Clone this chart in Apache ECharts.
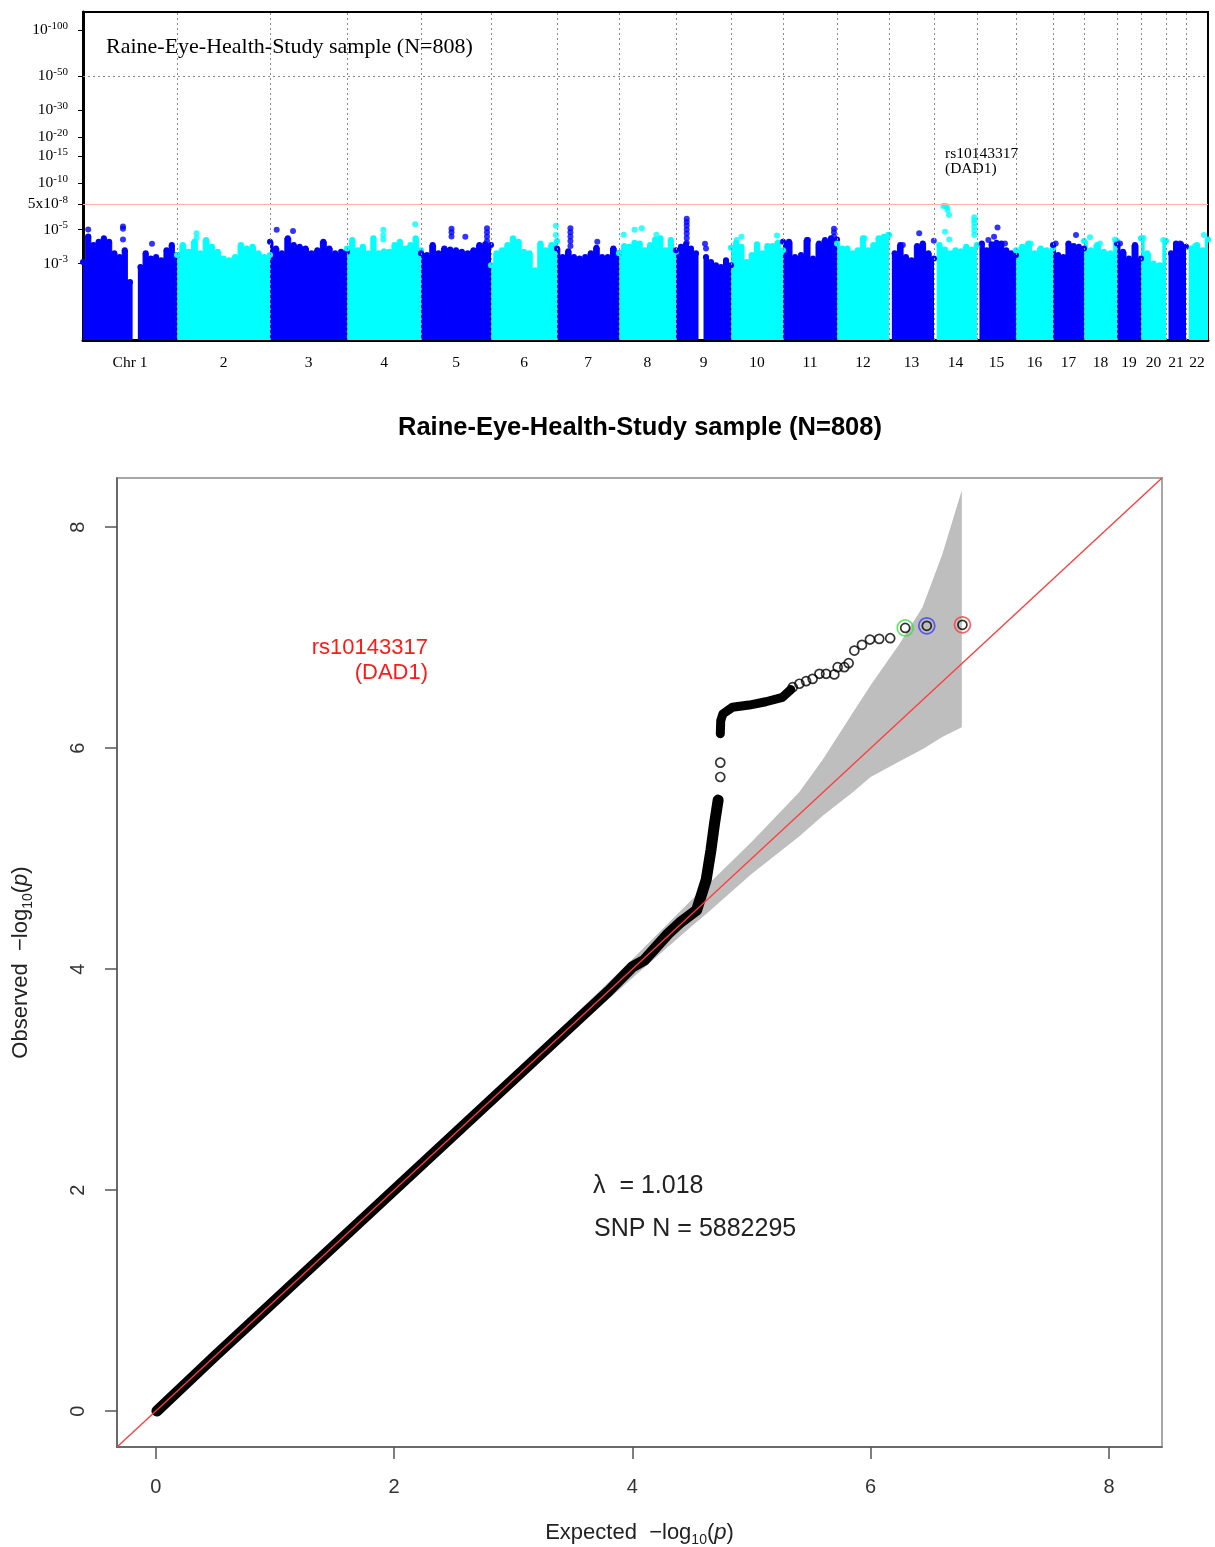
<!DOCTYPE html>
<html><head><meta charset="utf-8">
<script src="https://cdn.jsdelivr.net/npm/echarts@6/dist/echarts.min.js"></script>
<style>html,body{margin:0;padding:0;background:#fff}#c{width:1215px;height:1547px}</style>
</head><body><div id="c"></div>
<script>
// ================= Manhattan plot data =================
const chromNames = ['Chr 1','2','3','4','5','6','7','8','9','10','11','12','13','14','15','16','17','18','19','20','21','22'];
// plotted span of each chromosome (Mb)
const chromLenMb = [240.4,237.9,196.9,189.3,179.0,168.8,158.5,145.8,140.7,133.0,138.1,133.0,115.1,109.9,99.8,94.6,79.3,84.4,61.4,63.9,51.2,56.2];
// upper edge of the dense point cloud (-log10 p), evenly spread over each chromosome; null = no SNPs
const env1  = [3.07,4.48,3.95,4.16,4.38,4.16,3.49,3.31,3.66,2.27,null,2.84,3.49,3.23,3.31,3.15,3.66,3.95,3.40];
const env2  = [3.40,3.95,3.57,4.16,3.49,4.26,3.85,3.57,3.23,3.15,3.31,3.95,3.76,3.85,3.49,3.31,3.40];
const env3  = [4.16,3.76,3.49,4.38,3.95,3.85,3.76,3.49,3.66,4.16,3.76,3.49,3.57,3.57];
const env4  = [3.76,4.26,3.66,3.85,3.49,4.38,3.49,3.60,3.57,3.95,4.16,3.76,3.95,4.38,3.66];
const env5  = [3.49,3.40,3.95,3.49,3.76,3.70,3.66,3.57,3.49,3.66,3.95,4.00,3.95];
const env6  = [2.92,3.49,3.66,3.95,4.38,4.16,3.57,3.49,2.71,4.05,3.66,3.95,4.20];
const env7  = [3.76,3.31,3.60,3.31,3.23,3.31,3.49,3.80,3.31,3.31,3.76,3.49];
const env8  = [3.49,3.90,3.85,4.10,4.05,3.66,3.95,4.30,4.38,3.66,4.26,3.57];
const env9  = [3.66,3.85,4.00,3.76,3.49,null,3.31,3.07,2.92,2.84,3.15,2.92];
const env10 = [3.80,4.10,3.85,3.07,3.40,4.00,3.49,3.90,3.90,4.10,3.66];
const env11 = [4.16,4.16,3.31,3.40,4.26,3.23,4.05,4.26,4.38,4.30];
const env12 = [4.05,3.76,3.76,3.49,3.66,4.38,3.66,3.95,4.38,4.48,4.60];
const env13 = [null,3.49,3.95,3.31,3.15,3.90,4.05,3.49,3.23];
const env14 = [null,3.95,3.70,3.49,3.66,3.60,3.85,3.70,3.95];
const env15 = [null,4.05,3.66,4.00,4.10,4.05,3.66,3.49,3.40];
const env16 = [3.66,3.85,4.05,3.49,3.76,3.66,3.76];
const env17 = [3.95,3.40,3.31,4.05,3.90,3.85,3.76];
const env18 = [4.20,3.66,3.95,3.57,3.49,4.20];
const env19 = [4.05,3.57,3.23,3.95,3.23];
const env20 = [4.38,3.49,3.00,2.92,4.20];
const env21 = [null,3.49,4.05,4.00,3.85];
const env22 = [null,3.76,3.95,3.66,4.30];
const chromEnvelope = [env1,env2,env3,env4,env5,env6,env7,env8,env9,env10,env11,env12,env13,env14,env15,env16,env17,env18,env19,env20,env21,env22];
// isolated SNPs standing above the cloud: genome position (Mb) and -log10 p
const hitPosMb = [13.3,13.3,102.3,102.3,102.3,176.5, 290.5,290.5, 495.4,537.1, 768.0,768.0,768.0,849.6,
  942.5,942.5,942.5,977.8,1033.2,1033.2,1033.2,1033.2, 1209.5,1209.5, 1246.6,1246.6,1246.6,1246.6,1246.6,1315.3,
  1382.9,1410.7,1429.2,1466.5, 1544.0,1544.0,1544.0,1544.0,1544.0,1544.0,1544.0,1590.8,1593.4,
  1671.9,1684.2,1774.9, 1854.2,1920.7,1920.7,1920.7, 1999.0,2059.0, 2096.7,2138.6,2176.0,
  2200.3,2206.0,2209.5,2211.0,2214.8,2204.6,2215.6,2279.5,2279.5,2279.5,2279.5,2279.5,2279.5,
  2315.4,2330.0,2338.9,2358.0, 2424.0, 2487.7,2539.6, 2575.4,2601.0,2639.4, 2652.2,2690.5, 2711.8,2762.9, 2805.6, 2844.0,2867.0];
const hitLogP = [4.99,4.50,5.22,5.05,4.30,4.03, 4.72,4.40, 4.97,4.89, 4.97,4.60,4.30,5.41,
  5.05,4.80,4.50,4.48,5.09,4.80,4.50,4.20, 5.28,4.60, 5.09,4.80,4.50,4.20,3.90,4.16,
  4.62,4.97,5.09,4.62, 5.87,5.60,5.30,5.00,4.70,4.40,4.10,4.03,3.75,
  4.26,4.48,4.56, 4.26,5.05,4.80,4.50, 4.38,4.62, 3.95,4.72,4.22,
  7.12,7.11,6.99,6.70,6.20,4.83,4.30,6.00,5.75,5.50,5.20,4.90,4.60,
  4.26,4.48,5.15,4.05, 4.05, 4.05,4.60, 4.45,4.05,4.30, 4.05,3.90, 4.40,4.26, 4.05, 3.90,4.60];
const mhTickLogP = [3,5,7.30103,10,15,20,30,50,100];
const mhTickBase = ['10','10','5x10','10','10','10','10','10','10'];
const mhTickExp  = ['-3','-5','-8','-10','-15','-20','-30','-50','-100'];
const gwsLogP = 7.30103;

// ================= QQ plot data =================
const qqDenseExp1 = [0.01,0.5,1.0,1.5,2.0,2.5,3.0,3.5,3.8,4.0,4.1,4.2,4.3,4.4,4.54,4.62,4.66,4.69,4.72];
const qqDenseObs1 = [0.00,0.5,1.0,1.5,2.0,2.5,3.0,3.5,3.8,4.02,4.08,4.2,4.32,4.42,4.535,4.81,5.08,5.32,5.53];
const qqDenseExp2 = [4.738,4.742,4.76,4.84,4.98,5.12,5.26,5.33];
const qqDenseObs2 = [6.13,6.25,6.31,6.37,6.39,6.42,6.46,6.53];
const qqTailExp = [4.738,4.738,5.346,5.402,5.458,5.513,5.570,5.626,5.695,5.723,5.779,5.815,5.863,5.927,5.994,6.072,6.164,6.290,6.471,6.770];
const qqTailObs = [5.739,5.869,6.552,6.583,6.606,6.627,6.673,6.673,6.667,6.733,6.733,6.769,6.883,6.935,6.983,6.989,6.995,7.088,7.107,7.116];
const qqHighlightIdx = [17,18,19];
const qqHighlightColors = ['#44dd44','#3b3bff','#ff3b3b'];
const qqBandExp   = [3.0,3.5,4.0,4.5,4.62,5.0,5.4,5.6,5.85,6.0,6.24,6.435,6.6,6.765];
const qqBandUpper = [3.05,3.57,4.09,4.63,4.75,5.15,5.60,5.90,6.32,6.57,6.94,7.275,7.75,8.335];
const qqBandLower = [2.95,3.44,3.92,4.39,4.50,4.86,5.20,5.39,5.60,5.74,5.88,5.99,6.10,6.19];
const qqRange = [-0.325, 8.445];
const qqTicks = [0,2,4,6,8];

// ================= build =================
const starts = []; let acc = 0;
chromLenMb.forEach(l => { starts.push(acc); acc += l; });
const genomeLen = acc;
const mids = chromLenMb.map((l,i) => starts[i] + l/2);
const colOf = i => (i % 2 === 0 ? '#0000ff' : '#00ffff');
const chromOfPos = p => { let k = 0; for (let i = 0; i < starts.length; i++) if (p >= starts[i]) k = i; return k; };

const series = [];
series.push({
  type:'scatter', xAxisIndex:0, yAxisIndex:0, data:[], z:1, silent:true,
  markLine:{ silent:true, symbol:['none','none'], label:{show:false}, animation:false,
    lineStyle:{type:[2,3], color:'#8a8a8a', width:1},
    data: starts.slice(1).map(s => ({xAxis:s})).concat([{yAxis:50}]) }
});
chromEnvelope.forEach((env,i) => {
  const n = env.length, len = chromLenMb[i];
  const data = env.map((v,j) => [starts[i] + j*len/(n-1), v]);
  series.push({ type:'line', xAxisIndex:0, yAxisIndex:0, data, step:'middle', connectNulls:false,
    symbol:'circle', symbolSize:6, showSymbol:true, z:3, silent:true,
    itemStyle:{color:colOf(i)}, lineStyle:{width:1, color:colOf(i)},
    areaStyle:{color:colOf(i), opacity:1, origin:'start'} });
});
series.push({ type:'scatter', xAxisIndex:0, yAxisIndex:0, z:4, silent:true, symbolSize:6,
  data: hitPosMb.map((p,i) => [p, hitLogP[i], chromOfPos(p)]),
  itemStyle:{ color: prm => colOf(prm.data[2]) } });
series.push({ type:'scatter', xAxisIndex:0, yAxisIndex:0, data:[], z:5, silent:true,
  markLine:{ silent:true, symbol:['none','none'], label:{show:false}, animation:false,
    lineStyle:{type:'solid', color:'#ffb0b0', width:1}, data:[{yAxis:gwsLogP}] } });

series.push({ type:'custom', xAxisIndex:1, yAxisIndex:1, data:[[0,0]], z:1, silent:true, clip:true,
  renderItem:(params, api) => {
    const pts = [];
    for (let i = 0; i < qqBandExp.length; i++) pts.push(api.coord([qqBandExp[i], qqBandUpper[i]]));
    for (let i = qqBandExp.length-1; i >= 0; i--) pts.push(api.coord([qqBandExp[i], qqBandLower[i]]));
    return { type:'polygon', shape:{points:pts}, style:{fill:'#bebebe'} };
  } });
series.push({ type:'line', xAxisIndex:1, yAxisIndex:1, z:3, silent:true, symbol:'none',
  data: qqDenseExp1.map((e,i)=>[e, qqDenseObs1[i]]),
  lineStyle:{color:'#000', width:11, cap:'round', join:'round'} });
series.push({ type:'line', xAxisIndex:1, yAxisIndex:1, z:3, silent:true, symbol:'none',
  data: qqDenseExp2.map((e,i)=>[e, qqDenseObs2[i]]),
  lineStyle:{color:'#000', width:9, cap:'round', join:'round'} });
series.push({ type:'scatter', xAxisIndex:1, yAxisIndex:1, z:3, silent:true, symbol:'circle', symbolSize:9,
  data: qqTailExp.map((e,i)=>[e, qqTailObs[i]]),
  itemStyle:{color:'rgba(0,0,0,0)', borderColor:'#000', borderWidth:1.7} });
series.push({ type:'line', xAxisIndex:1, yAxisIndex:1, z:4, silent:true, symbol:'none',
  data: [[qqRange[0],qqRange[0]],[qqRange[1],qqRange[1]]],
  lineStyle:{color:'#ff3c3c', width:1.3} });
series.push({ type:'scatter', xAxisIndex:1, yAxisIndex:1, z:5, silent:true, symbol:'circle', symbolSize:16,
  data: qqHighlightIdx.map((k,i)=>({value:[qqTailExp[k], qqTailObs[k]],
    itemStyle:{color:'rgba(0,0,0,0)', borderColor:qqHighlightColors[i], borderWidth:1.7}})) });

const nearestIdx = (arr, v) => { let b = 0; for (let i = 1; i < arr.length; i++) if (Math.abs(arr[i]-v) < Math.abs(arr[b]-v)) b = i; return b; };
const sansName = {fontFamily:'Liberation Sans', fontSize:22, color:'#222'};
const nameRich = {n:{...sansName, lineHeight:28}, sub:{fontFamily:'Liberation Sans', fontSize:14, color:'#222', lineHeight:12, verticalAlign:'bottom'}, it:{...sansName, fontStyle:'italic', lineHeight:28}};

const option = {
  animation:false,
  backgroundColor:'#fff',
  title:[
    {text:'Raine-Eye-Health-Study sample (N=808)', left:106, top:36, padding:0,
     textStyle:{fontFamily:'Liberation Serif', fontSize:22, fontWeight:'normal', color:'#000'}},
    {text:'Raine-Eye-Health-Study sample (N=808)', left:398, top:415, padding:0,
     textStyle:{fontFamily:'Liberation Sans', fontSize:25.5, fontWeight:'bold', color:'#000'}}
  ],
  grid:[
    {left:83, top:12, width:1125, height:328, show:true, borderColor:'#000', borderWidth:2, backgroundColor:'transparent', outerBoundsMode:'none', containLabel:false},
    {left:117, top:478, right:53, bottom:100, show:true, borderColor:'#a8a8a8', borderWidth:2, backgroundColor:'transparent', outerBoundsMode:'none', containLabel:false}
  ],
  xAxis:[
    {type:'value', gridIndex:0, min:0, max:genomeLen, splitLine:{show:false},
     axisLine:{show:true, onZero:false, lineStyle:{color:'#000', width:3}}, axisTick:{show:false},
     axisLabel:{customValues:mids, margin:15, color:'#000', fontFamily:'Liberation Serif', fontSize:15.5,
       formatter: v => chromNames[nearestIdx(mids, v)]}},
    {type:'value', gridIndex:1, min:qqRange[0], max:qqRange[1], splitLine:{show:false},
     axisLine:{show:true, onZero:false, lineStyle:{color:'#555', width:1.5}},
     axisTick:{show:true, customValues:qqTicks, length:12, lineStyle:{color:'#555', width:1.5}},
     axisLabel:{customValues:qqTicks, margin:30, color:'#333', fontFamily:'Liberation Sans', fontSize:20},
     name:'{n|Expected  −log}{sub|10}{n|(}{it|p}{n|)}', nameLocation:'middle', nameGap:72,
     nameTextStyle:{...sansName, rich:nameRich}}
  ],
  yAxis:[
    {type:'log', logBase:10, gridIndex:0, min:0.949, max:131.3, splitLine:{show:false},
     axisLine:{show:true, onZero:false, lineStyle:{color:'#000', width:3}},
     axisTick:{show:true, customValues:mhTickLogP, length:5, lineStyle:{color:'#000', width:1}},
     axisLabel:{customValues:mhTickLogP, margin:15, color:'#000',
       formatter: v => { const k = nearestIdx(mhTickLogP, v); return '{b|' + mhTickBase[k] + '}{s|' + mhTickExp[k] + '}'; },
       rich:{ b:{fontFamily:'Liberation Serif', fontSize:15.5, color:'#000', lineHeight:20},
              s:{fontFamily:'Liberation Serif', fontSize:11, color:'#000', lineHeight:11, verticalAlign:'top'} }}},
    {type:'value', gridIndex:1, min:qqRange[0], max:qqRange[1], splitLine:{show:false},
     axisLine:{show:true, onZero:false, lineStyle:{color:'#555', width:1.5}},
     axisTick:{show:true, customValues:qqTicks, length:12, lineStyle:{color:'#555', width:1.5}},
     axisLabel:{customValues:qqTicks, margin:29, rotate:90, color:'#333', fontFamily:'Liberation Sans', fontSize:20},
     name:'{n|Observed  −log}{sub|10}{n|(}{it|p}{n|)}', nameLocation:'middle', nameGap:82, nameRotate:90,
     nameTextStyle:{...sansName, rich:nameRich}}
  ],
  graphic:[
    {type:'text', z:10, style:{x:945, y:161, text:'rs10143317\n(DAD1)', font:'15.5px "Liberation Serif"', fill:'#000', lineHeight:15, verticalAlign:'middle'}},
    {type:'text', z:10, style:{x:428, y:660, text:'rs10143317\n(DAD1)', textAlign:'right', font:'22px "Liberation Sans"', fill:'#ff1a1a', lineHeight:25, verticalAlign:'middle'}},
    {type:'text', z:10, style:{x:593, y:1186, text:'λ  = 1.018', font:'25px "Liberation Sans"', fill:'#222', verticalAlign:'middle'}},
    {type:'text', z:10, style:{x:594, y:1229, text:'SNP N = 5882295', font:'25px "Liberation Sans"', fill:'#222', verticalAlign:'middle'}}
  ],
  series
};
const chart = echarts.init(document.getElementById('c'), null, {renderer:'canvas'});
chart.setOption(option);
</script>
</body></html>
